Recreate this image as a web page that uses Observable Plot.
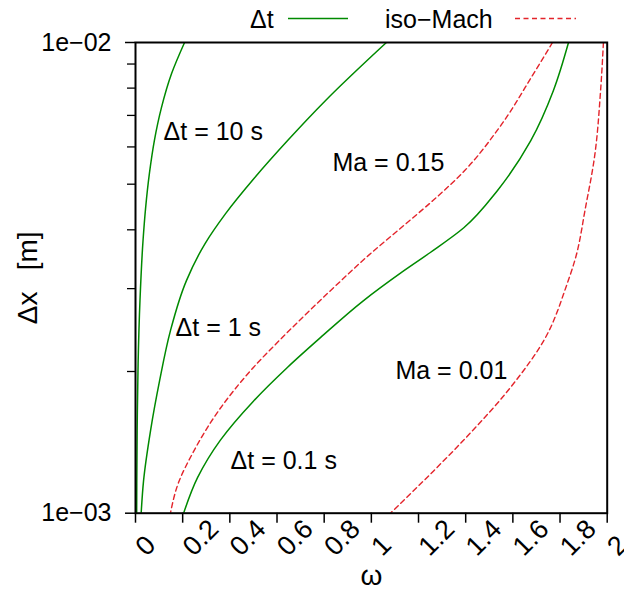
<!DOCTYPE html>
<html>
<head>
<meta charset="utf-8">
<script src="https://cdn.jsdelivr.net/npm/d3@7"></script>
<script src="https://cdn.jsdelivr.net/npm/@observablehq/plot@0.6"></script>
<style>
  body { margin: 0; background: #fff; }
  #wrap { position: relative; width: 624px; height: 590px; }
  #legend { position: absolute; left: 0; top: 0; }
</style>
</head>
<body>
<div id="wrap"></div>
<script>
// ---- axis ticks ----
const xTicks = [0, 0.2, 0.4, 0.6, 0.8, 1, 1.2, 1.4, 1.6, 1.8, 2];
const xTickLabels = ["0", "0.2", "0.4", "0.6", "0.8", "1", "1.2", "1.4", "1.6", "1.8", "2"];
const yTicks = [0.001, 0.01];
const yTickLabels = ["1e\u221203", "1e\u221202"];
const yMinorTicks = [0.002, 0.003, 0.004, 0.005, 0.006, 0.007, 0.008, 0.009];

// ---- Δt curves (green) ----
const dt10Omega = [0.208, 0.153, 0.110, 0.080, 0.059, 0.043, 0.032, 0.019, 0.011, 0.007, 0.005];
const dt10Dx    = [0.0100, 0.00859, 0.00727, 0.00619, 0.00527, 0.00446, 0.00380, 0.00283, 0.00208, 0.00150, 0.00100];

const dt1Omega = [1.064, 0.806, 0.645, 0.505, 0.382, 0.295, 0.216, 0.148, 0.102, 0.064, 0.034, 0.024];
const dt1Dx    = [0.0100, 0.00753, 0.00619, 0.00516, 0.00433, 0.00374, 0.00312, 0.00244, 0.00191, 0.00150, 0.00117, 0.00100];

const dt01Omega = [1.836, 1.772, 1.676, 1.535, 1.392, 1.250, 1.125, 0.967, 0.784, 0.644, 0.500, 0.360, 0.263, 0.204];
const dt01Dx    = [0.0100, 0.00791, 0.00619, 0.00485, 0.00404, 0.00358, 0.00324, 0.00283, 0.00236, 0.00204, 0.00173, 0.00143, 0.00119, 0.00100];

// ---- iso-Mach curves (red dashed) ----
const ma015Omega = [1.768, 1.688, 1.543, 1.395, 1.260, 1.136, 0.988, 0.848, 0.640, 0.500, 0.352, 0.242, 0.182, 0.148];
const ma015Dx    = [0.0100, 0.00859, 0.00660, 0.00534, 0.00461, 0.00408, 0.00353, 0.00304, 0.00241, 0.00204, 0.00165, 0.00134, 0.00116, 0.00100];

const ma001Omega = [1.984, 1.972, 1.946, 1.908, 1.866, 1.827, 1.738, 1.590, 1.403, 1.264, 1.081];
const ma001Dx    = [0.0100, 0.00791, 0.00570, 0.00446, 0.00349, 0.00304, 0.00236, 0.00185, 0.00145, 0.00123, 0.00100];

// ---- curve annotations ----
const labelTexts = ["\u0394t = 10 s", "\u0394t = 1 s", "\u0394t = 0.1 s", "Ma = 0.15", "Ma = 0.01"];
const labelOmega = [0.119, 0.170, 0.403, 0.835, 1.102];
const labelDx    = [0.00647, 0.002477, 0.001294, 0.00554, 0.002009];

// ---- build tables ----
function rows(id, om, dx) { return om.map((o, i) => ({id, omega: o, dx: dx[i]})); }
const greenRows = [
  ...rows("dt10", dt10Omega, dt10Dx),
  ...rows("dt1", dt1Omega, dt1Dx),
  ...rows("dt01", dt01Omega, dt01Dx)
];
const redRows = [
  ...rows("ma015", ma015Omega, ma015Dx),
  ...rows("ma001", ma001Omega, ma001Dx)
];
const labelRows = labelTexts.map((t, i) => ({text: t, omega: labelOmega[i], dx: labelDx[i]}));

const FONT = "'Liberation Sans', Arial, Helvetica, sans-serif";
const GREEN = "#008a00";
const RED = "#e3242b";

const plot = Plot.plot({
  width: 624,
  height: 590,
  marginLeft: 135,
  marginRight: 17.3,
  marginTop: 42,
  marginBottom: 77.3,
  style: {fontFamily: FONT, fontSize: "25px", background: "white", color: "black", overflow: "visible"},
  x: {domain: [0, 2]},
  y: {type: "log", domain: [0.001, 0.01]},
  marks: [
    Plot.axisY(yMinorTicks, {tickSize: 8, tickFormat: () => "", label: null, strokeWidth: 1.3}),
    Plot.axisY(yTicks, {tickSize: 10, tickPadding: 14, strokeWidth: 1.5,
      tickFormat: d => yTickLabels[yTicks.indexOf(d)], label: null}),
    Plot.axisX(xTicks, {tickSize: 10, tickFormat: () => "", label: null, strokeWidth: 1.5}),
    Plot.text(xTicks, {x: d => d, text: (d, i) => xTickLabels[i], frameAnchor: "bottom",
      rotate: -45, textAnchor: "start", lineAnchor: "bottom", dx: 11, dy: 44, fontSize: 27}),
    Plot.text(["\u03c9"], {frameAnchor: "bottom", lineAnchor: "middle", textAnchor: "middle", dy: 63, fontSize: 28}),
    Plot.text(["\u0394x\u00a0\u00a0\u2009[m]"], {frameAnchor: "left", textAnchor: "middle", lineAnchor: "middle",
      dx: -107, rotate: -90, fontSize: 28}),
    Plot.line(greenRows, {x: "omega", y: "dx", z: "id", stroke: GREEN, strokeWidth: 1.5,
      curve: "monotone-y", clip: true}),
    Plot.line(redRows, {x: "omega", y: "dx", z: "id", stroke: RED, strokeWidth: 1.4,
      strokeDasharray: "5,3.5", curve: "monotone-y", clip: true}),
    Plot.text(labelRows, {x: "omega", y: "dx", text: "text", textAnchor: "start"}),
    Plot.frame({stroke: "black", strokeWidth: 2})
  ]
});

const wrap = document.getElementById("wrap");
wrap.appendChild(plot);

// legend above the frame
const legend = document.createElementNS("http://www.w3.org/2000/svg", "svg");
legend.setAttribute("id", "legend");
legend.setAttribute("width", 624);
legend.setAttribute("height", 40);
legend.innerHTML = `
  <g font-family="${FONT}" font-size="25" fill="black">
    <text x="250" y="28">\u0394t</text>
    <line x1="288" x2="348" y1="18.5" y2="18.5" stroke="${GREEN}" stroke-width="1.5"/>
    <text x="385" y="28">iso\u2212Mach</text>
    <line x1="515" x2="576" y1="18.5" y2="18.5" stroke="${RED}" stroke-width="1.4" stroke-dasharray="5,3.5"/>
  </g>`;
wrap.appendChild(legend);
</script>
</body>
</html>
